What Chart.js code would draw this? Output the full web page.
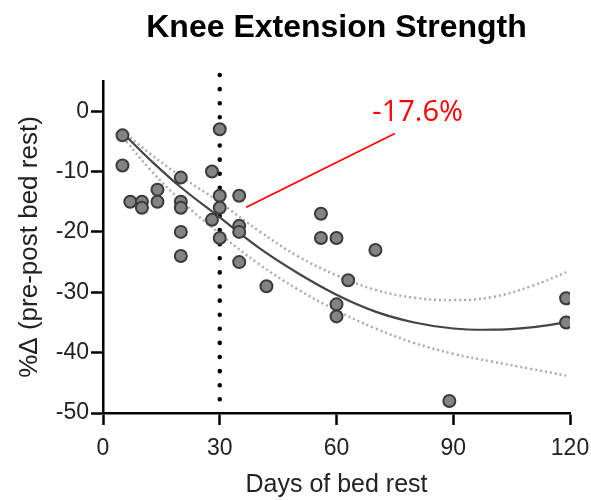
<!DOCTYPE html>
<html>
<head>
<meta charset="utf-8">
<script src="https://cdn.jsdelivr.net/npm/chart.js@4"></script>
<style>
  body { margin: 0; background: #fff; }
  canvas { display: block; }
</style>
</head>
<body>
<canvas id="kneeChart" width="591" height="500"></canvas>
<script>
// individual subjects: days of bed rest vs % change
const days = [5, 5, 7, 10, 10, 14, 14, 20, 20, 20, 20, 20, 30, 28, 30, 30, 28, 30, 35, 35, 35, 35, 42, 56, 56, 60, 70, 63, 60, 60, 89, 119, 119];
const change = [-4, -9, -15, -15, -16, -13, -15, -11, -15, -16, -20, -24, -3, -10, -14, -16, -18, -21, -14, -19, -20, -25, -29, -17, -21, -21, -23, -28, -32, -34, -48, -31, -35];

// regression curve and its band
const fitDays = [6, 12, 20, 30, 40, 50, 60, 70, 80, 90, 100, 110, 119];
const fitLine = [-4.2, -8.0, -12.6, -17.6, -22.6, -26.8, -30.4, -33.2, -35.0, -36.0, -36.2, -35.8, -35.0];
const upperBand = [-3.8, -7.0, -10.8, -15.1, -19.8, -24.0, -27.2, -29.6, -30.9, -31.3, -30.8, -29.0, -26.7];
const lowerBand = [-5.0, -9.6, -14.8, -20.3, -25.3, -29.5, -33.0, -36.0, -38.4, -40.2, -41.5, -42.7, -43.8];

// 30-day marker and the callout
const markerDay = 30;
const markerRange = [6, -49];
const calloutText = '-17.6%';
const calloutLineX = [36.8, 75];
const calloutLineY = [-15.9, -3.7];
const calloutTextAt = [69.2, -1.65];

const xTicks = [0, 30, 60, 90, 120];
const yTicks = [0, -10, -20, -30, -40, -50];

const FONT = "'Liberation Sans', Arial, sans-serif";

function pairs(xs, ys) {
    return xs.map((x, i) => ({ x: x, y: ys[i] }));
}

const extras = {
    id: 'extras',
    afterDatasetsDraw(chart) {
        const ctx = chart.ctx;
        const area = chart.chartArea;
        const sx = chart.scales.x;
        const sy = chart.scales.y;
        ctx.save();
        ctx.fillStyle = '#000';
        ctx.font = 'bold 32px ' + FONT;
        ctx.textAlign = 'center';
        ctx.textBaseline = 'middle';
        ctx.fillText('Knee Extension Strength', (area.left + area.right) / 2, 28);

        ctx.fillStyle = '#ff0000';
        ctx.font = "29px 'Open Sans', sans-serif";
        ctx.textAlign = 'left';
        ctx.textBaseline = 'alphabetic';
        ctx.fillText(calloutText, sx.getPixelForValue(calloutTextAt[0]), sy.getPixelForValue(calloutTextAt[1]));
        ctx.restore();
    }
};

const ctx = document.getElementById('kneeChart').getContext('2d');

new Chart(ctx, {
    type: 'scatter',
    data: {
        datasets: [
            {
                label: 'Subjects',
                data: pairs(days, change),
                pointRadius: 6,
                pointHoverRadius: 6,
                backgroundColor: '#838383',
                borderColor: '#3a3a3a',
                borderWidth: 2
            },
            {
                label: 'Fit',
                data: pairs(fitDays, fitLine),
                showLine: true,
                pointRadius: 0,
                borderColor: '#444',
                borderWidth: 2.2,
                tension: 0.4
            },
            {
                label: 'Upper',
                data: pairs(fitDays, upperBand),
                showLine: true,
                pointRadius: 0,
                borderColor: '#ababab',
                borderWidth: 2.5,
                borderDash: [2, 3],
                tension: 0.4
            },
            {
                label: 'Lower',
                data: pairs(fitDays, lowerBand),
                showLine: true,
                pointRadius: 0,
                borderColor: '#ababab',
                borderWidth: 2.5,
                borderDash: [2, 3],
                tension: 0.4
            },
            {
                label: '30 days',
                data: pairs([markerDay, markerDay], markerRange),
                showLine: true,
                pointRadius: 0,
                borderColor: '#000',
                borderWidth: 4.5,
                borderCapStyle: 'round',
                borderDash: [0.1, 14],
                clip: false
            },
            {
                label: 'Callout',
                data: pairs(calloutLineX, calloutLineY),
                showLine: true,
                pointRadius: 0,
                borderColor: '#ff0000',
                borderWidth: 1.7,
                clip: false
            }
        ]
    },
    options: {
        responsive: false,
        animation: false,
        layout: {
            padding: { top: 81, right: 21, bottom: 0, left: 14 }
        },
        plugins: {
            legend: { display: false },
            tooltip: { enabled: false }
        },
        scales: {
            x: {
                type: 'linear',
                min: 0,
                max: 120,
                afterBuildTicks: scale => { scale.ticks = xTicks.map(v => ({ value: v })); },
                afterFit: scale => {
                    scale.height = 87;
                    scale.paddingLeft = 0;
                    scale.paddingRight = 0;
                },
                border: { display: true, color: '#000', width: 2.5 },
                grid: { drawOnChartArea: false, drawTicks: true, tickLength: 12, tickWidth: 2.5, tickColor: '#000' },
                ticks: { color: '#222', font: { family: FONT, size: 23 }, padding: 10, maxRotation: 0 },
                title: { display: true, text: 'Days of bed rest', color: '#222', font: { family: FONT, size: 25 }, padding: { top: 2, bottom: 0 } }
            },
            y: {
                type: 'linear',
                min: -50,
                max: 5,
                afterBuildTicks: scale => { scale.ticks = yTicks.map(v => ({ value: v })); },
                afterFit: scale => {
                    scale.width = 89;
                    scale.paddingTop = 0;
                    scale.paddingBottom = 0;
                },
                border: { display: true, color: '#000', width: 2.5 },
                grid: { drawOnChartArea: false, drawTicks: true, tickLength: 12, tickWidth: 2.5, tickColor: '#000' },
                ticks: { color: '#222', font: { family: FONT, size: 23 }, padding: 2 },
                title: { display: true, text: '%Δ (pre-post bed rest)', color: '#222', font: { family: FONT, size: 26 }, padding: { top: 0, bottom: 0 } }
            }
        }
    },
    plugins: [extras]
});
</script>
</body>
</html>
